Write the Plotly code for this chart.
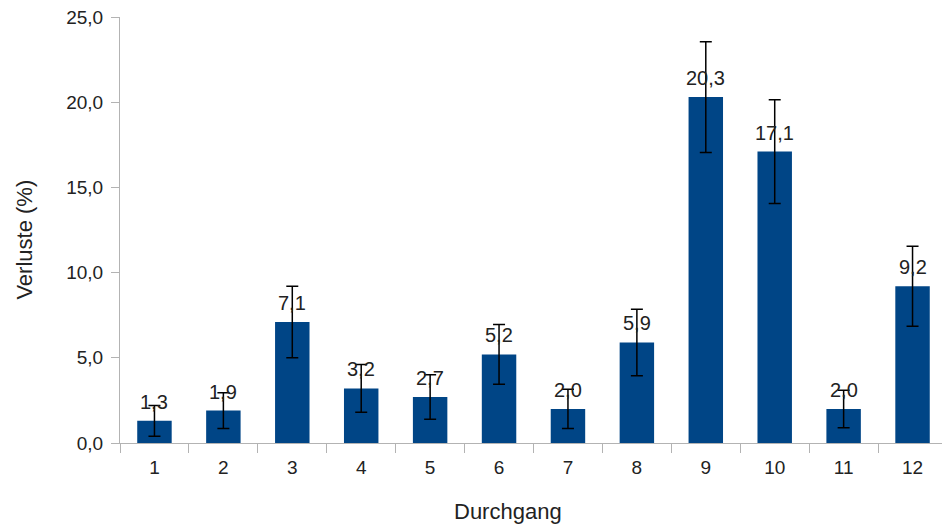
import plotly.graph_objects as go

# Durchgang vs. Verluste (%), with error bars
durchgang = ["1", "2", "3", "4", "5", "6", "7", "8", "9", "10", "11", "12"]
verluste = [1.3, 1.9, 7.1, 3.2, 2.7, 5.2, 2.0, 5.9, 20.3, 17.1, 2.0, 9.2]
fehler = [0.9, 1.05, 2.1, 1.4, 1.3, 1.75, 1.15, 1.95, 3.25, 3.05, 1.1, 2.35]

_BLUE = "#004586"
_TEXT = "#222222"
_AXIS = "#b3b3b3"
_FONT = "Liberation Sans, Arial, sans-serif"

# plot area in page pixels (the page body adds an 8px margin)
_L, _R, _T, _B = 119.5, 947.5, 17, 443
_W, _H = _R - _L, _B - _T

fig = go.Figure(go.Bar(
    x=durchgang,
    y=verluste,
    marker_color=_BLUE,
    marker_line_width=0,
    error_y=dict(type="data", array=fehler, visible=True,
                 color="#000000", thickness=1.5, width=6),
))

# value labels above the bars (category axis -> index positions)
for i, y in enumerate(verluste):
    fig.add_annotation(
        x=i, y=y, text=f"{y:.1f}".replace(".", ","),
        showarrow=False, yanchor="bottom", yshift=6,
        font=dict(size=20, color=_TEXT, family=_FONT),
    )

# axis titles
fig.add_annotation(
    text="Durchgang", xref="paper", yref="paper",
    x=(508 - _L) / _W, y=-(511 - _B) / _H,
    showarrow=False, xanchor="center", yanchor="middle",
    font=dict(size=22, color=_TEXT, family=_FONT),
)
fig.add_annotation(
    text="Verluste (%)", xref="paper", yref="paper",
    x=-(_L - 23) / _W, y=(_B - 240) / _H, textangle=-90,
    showarrow=False, xanchor="center", yanchor="middle",
    font=dict(size=22, color=_TEXT, family=_FONT),
)

fig.update_layout(
    width=942,
    height=519,
    separators=",.",
    plot_bgcolor="white",
    paper_bgcolor="white",
    font=dict(family=_FONT, color=_TEXT, size=19),
    margin=dict(l=_L - 8, r=942 - (_R - 8), t=_T - 8, b=519 - (_B - 8),
                autoexpand=False),
    bargap=0.5,
    showlegend=False,
    xaxis=dict(
        type="category",
        automargin=False,
        showline=True, linecolor=_AXIS, linewidth=1,
        ticks="outside", tickson="boundaries", ticklen=9, tickcolor=_AXIS,
        tickfont=dict(size=19),
        ticklabelstandoff=7,
        showgrid=False,
    ),
    yaxis=dict(
        range=[0, 25],
        dtick=5,
        tickformat=".1f",
        automargin=False,
        showline=True, linecolor=_AXIS, linewidth=1,
        ticks="outside", ticklen=8, tickcolor=_AXIS,
        tickfont=dict(size=19),
        ticklabelstandoff=4,
        ticklabeloverflow="allow",
        showgrid=False,
        zeroline=False,
    ),
)

fig.write_html("out.html")
